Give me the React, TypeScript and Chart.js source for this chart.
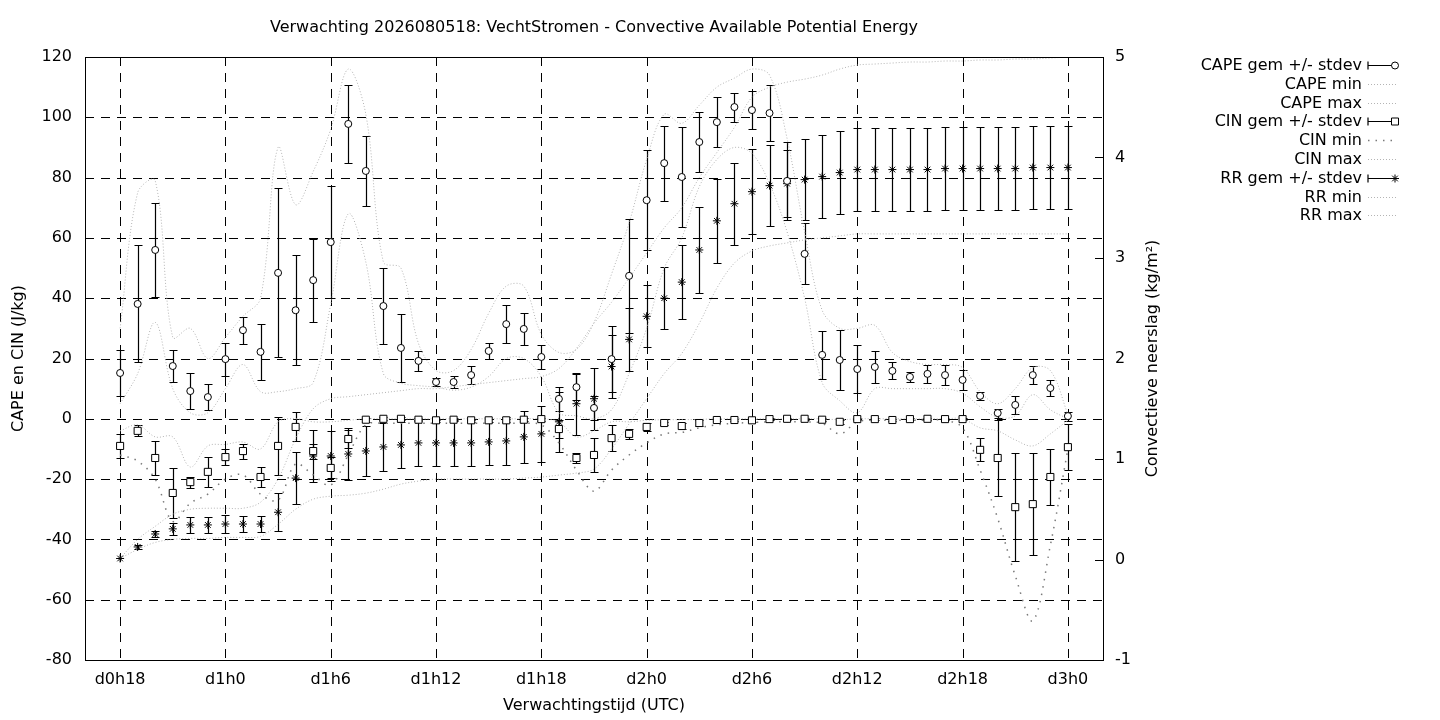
import React, { useRef, useEffect } from 'react';
import { Chart, registerables } from 'chart.js';

Chart.register(...registerables);

// forecast hours since d0h0
const hours = [
    18, 19, 20, 21, 22, 23, 24, 25, 26, 27,
    28, 29, 30, 31, 32, 33, 34, 35, 36, 37,
    38, 39, 40, 41, 42, 43, 44, 45, 46, 47,
    48, 49, 50, 51, 52, 53, 54, 55, 56, 57,
    58, 59, 60, 61, 62, 63, 64, 65, 66, 67,
    68, 69, 70, 71, 72,
];

const xTickHours = [18, 24, 30, 36, 42, 48, 54, 60, 66, 72];
const xTickLabels = ['d0h18', 'd1h0', 'd1h6', 'd1h12', 'd1h18', 'd2h0', 'd2h6', 'd2h12', 'd2h18', 'd3h0'];
const leftTicks = [-80, -60, -40, -20, 0, 20, 40, 60, 80, 100, 120];
const rightTicks = [-1, 0, 1, 2, 3, 4, 5];

// CAPE (J/kg)
const capeMean = [
    15.2, 38.1, 56.0, 17.5, 9.2, 7.2, 19.8, 29.4, 22.2, 48.4,
    36.0, 46.0, 58.6, 97.8, 82.2, 37.4, 23.5, 19.2, 12.2, 12.2,
    14.5, 22.5, 31.4, 29.8, 20.5, 6.6, 10.5, 3.6, 19.8, 47.4,
    72.5, 84.8, 80.2, 91.8, 98.4, 103.4, 102.4, 101.4, 78.9, 54.7,
    21.2, 19.5, 16.5, 17.2, 15.9, 13.9, 14.9, 14.5, 12.9, 7.6,
    1.9, 4.6, 14.5, 10.2, 0.9,
];
const capeStd = [
    7.5, 19.4, 15.6, 5.3, 6.1, 4.3, 5.5, 4.5, 9.3, 28.0,
    18.2, 13.8, 18.6, 12.9, 11.5, 12.7, 11.3, 3.3, 1.4, 1.9,
    3.0, 2.8, 6.2, 5.2, 4.0, 4.1, 4.4, 4.0, 10.9, 18.8,
    16.5, 12.4, 16.6, 9.8, 8.4, 4.8, 6.2, 9.2, 13.0, 10.1,
    8.0, 9.8, 8.0, 5.2, 2.8, 1.7, 3.0, 3.3, 3.2, 1.4,
    1.5, 3.0, 2.9, 2.7, 1.5,
];
const capeMin = [
    5, 15, 32, 10, 2, 2, 10, 18, 9, 9,
    10, 12, 38, 68, 52, 15, 11.8, 11, 10.5, 9.5,
    10.5, 14, 20, 20, 14, 2, 1, 0, 3, 15,
    30, 50, 60, 77, 86, 90, 88, 78, 62, 40,
    12, 6, 2, 10, 10, 10, 10, 10, 8.5, 4,
    0.5, 1, 8, 3, 0,
];
const capeMax = [
    30, 75, 79, 27, 30, 20, 27, 34, 40, 90,
    71, 82, 96, 116, 101, 52, 50, 25, 16, 16,
    23, 35, 44, 44, 28, 22, 23, 32, 48, 65,
    86, 101, 98, 104, 110, 113, 116, 114, 93, 62,
    36, 30, 30, 31, 22, 19, 18, 18, 17, 9,
    5, 10, 17, 16, 1.5,
];

// CIN (J/kg)
const cinMean = [
    -9.0, -4.0, -13.0, -24.6, -21.0, -17.6, -12.7, -10.7, -19.3, -9.0,
    -2.7, -10.7, -16.3, -6.7, -0.3, 0, 0, -0.3, -0.5, -0.3,
    -0.5, -0.5, -0.5, -0.3, -0.1, -3.4, -13.0, -12.0, -6.4, -5.0,
    -2.7, -1.4, -2.4, -1.4, -0.4, -0.4, -0.5, -0.1, 0, 0,
    -0.3, -1.0, -0.1, -0.1, -0.4, -0.1, 0, -0.1, -0.1, -10.3,
    -13.0, -29.3, -28.3, -19.3, -9.4,
];
const cinStd = [
    4.0, 1.8, 5.6, 8.3, 1.8, 5.0, 2.7, 2.5, 3.2, 9.6,
    4.8, 2.5, 3.5, 3.0, 0.6, 0.5, 0.5, 0.5, 0.5, 0.5,
    0.5, 0.5, 0.5, 0.5, 0.5, 3.0, 1.7, 5.6, 4.2, 1.7,
    1.3, 0.5, 1.0, 1.0, 0.4, 0.4, 0.4, 0.3, 0.3, 0.3,
    0.4, 0.7, 0.3, 0.3, 0.3, 0.3, 0.3, 0.3, 0.3, 3.8,
    12.6, 17.8, 16.9, 9.2, 7.7,
];
const cinMin = [
    -12, -14, -20, -34, -28, -25, -20, -18.6, -25, -27,
    -15, -18.6, -22, -12, -2, -1.5, -1.5, -1.5, -1.5, -1.5,
    -1.5, -1.5, -1.5, -1.5, -2, -8, -17, -24, -17, -12,
    -8, -5, -4.5, -3, -2, -1.5, -1.2, -1, -1, -1,
    -1.5, -5, -1, -0.5, -0.5, -0.5, -0.5, -0.5, -3, -17,
    -33, -52, -67, -42, -10,
];
const cinMax = [
    -4, -2, -6, -6, -16, -9, -8.5, -7.7, -10, -1,
    0, -1, -1, -0.5, 0, 0, 0, 0, 0, 0,
    0, 0, 0, 0, 0, -1, -6, -4, -1, -1,
    -0.5, -0.3, -0.3, -0.2, 0, 0, 0, 0, 0, 0,
    0, -0.3, 0, 0, 0, 0, 0, 0, 0, -3,
    -4, -7, -9, -5, -0.5,
];

// convective precipitation (kg/m2), right axis
const rrMean = [
    0.01, 0.125, 0.254, 0.305, 0.344, 0.344, 0.353, 0.353, 0.353, 0.47,
    0.81, 1.03, 1.03, 1.05, 1.08, 1.12, 1.14, 1.16, 1.16, 1.16,
    1.16, 1.17, 1.18, 1.22, 1.25, 1.37, 1.55, 1.60, 1.92, 2.19,
    2.42, 2.60, 2.76, 3.08, 3.37, 3.54, 3.66, 3.72, 3.74, 3.78,
    3.81, 3.85, 3.88, 3.88, 3.88, 3.88, 3.88, 3.89, 3.89, 3.89,
    3.89, 3.89, 3.90, 3.90, 3.90,
];
const rrStd = [
    0, 0.02, 0.03, 0.06, 0.08, 0.08, 0.09, 0.08, 0.08, 0.19,
    0.26, 0.26, 0.25, 0.26, 0.25, 0.24, 0.23, 0.23, 0.23, 0.23,
    0.23, 0.23, 0.24, 0.26, 0.28, 0.30, 0.31, 0.31, 0.31, 0.31,
    0.31, 0.31, 0.37, 0.43, 0.42, 0.41, 0.42, 0.40, 0.33, 0.40,
    0.41, 0.41, 0.41, 0.41, 0.41, 0.41, 0.41, 0.41, 0.41, 0.41,
    0.41, 0.41, 0.41, 0.41, 0.41,
];
const rrMin = [
    0.01, 0.1, 0.17, 0.2, 0.21, 0.21, 0.22, 0.22, 0.23, 0.35,
    0.5, 0.6, 0.63, 0.64, 0.66, 0.7, 0.75, 0.78, 0.8, 0.8,
    0.8, 0.8, 0.8, 0.81, 0.82, 0.84, 0.86, 0.9, 1.1, 1.35,
    1.6, 1.85, 2.05, 2.35, 2.7, 2.95, 3.07, 3.12, 3.15, 3.18,
    3.2, 3.22, 3.24, 3.24, 3.24, 3.24, 3.24, 3.24, 3.24, 3.24,
    3.24, 3.24, 3.24, 3.24, 3.24,
];
const rrMax = [
    0.01, 0.2, 0.33, 0.45, 0.5, 0.51, 0.51, 0.51, 0.57, 0.8,
    1.2, 1.5, 1.6, 1.62, 1.64, 1.66, 1.68, 1.7, 1.7, 1.72,
    1.74, 1.76, 1.78, 1.8, 1.82, 1.9, 2.1, 2.35, 2.56, 2.8,
    3.05, 3.3, 3.5, 3.8, 4.05, 4.3, 4.6, 4.7, 4.75, 4.78,
    4.82, 4.88, 4.92, 4.93, 4.94, 4.95, 4.95, 4.96, 4.96, 4.97,
    4.97, 4.98, 4.98, 4.99, 5.0,
];

const FONT = 'DejaVu Sans';
const FONT_SIZE = 16;
const DOT_GREY = '#b4b4b4';

const pts = (values: number[]) => hours.map((h, i) => ({ x: h, y: values[i] }));

// marker drawing, shared by the legend
function drawMarker(ctx: CanvasRenderingContext2D, style: string, x: number, y: number) {
    ctx.save();
    ctx.setLineDash([]);
    ctx.strokeStyle = '#000';
    ctx.lineWidth = 1;
    ctx.beginPath();
    if (style === 'circle') {
        ctx.fillStyle = '#fff';
        ctx.arc(x, y, 3.5, 0, Math.PI * 2);
        ctx.fill();
        ctx.stroke();
    } else if (style === 'rect') {
        ctx.fillStyle = '#fff';
        ctx.rect(x - 3.5, y - 3.5, 7, 7);
        ctx.fill();
        ctx.stroke();
    } else {
        const r = 4;
        const d = r * Math.SQRT1_2;
        ctx.moveTo(x - r, y); ctx.lineTo(x + r, y);
        ctx.moveTo(x, y - r); ctx.lineTo(x, y + r);
        ctx.moveTo(x - d, y - d); ctx.lineTo(x + d, y + d);
        ctx.moveTo(x - d, y + d); ctx.lineTo(x + d, y - d);
        ctx.stroke();
    }
    ctx.restore();
}

const gnuplotLook = {
    id: 'gnuplotLook',
    beforeDatasetsDraw(chart: any) {
        const { ctx, chartArea: a, scales } = chart;
        ctx.save();
        // dashed grid
        ctx.strokeStyle = '#000';
        ctx.lineWidth = 1;
        ctx.setLineDash([9, 7]);
        ctx.beginPath();
        xTickHours.forEach((h) => {
            const x = Math.round(scales.x.getPixelForValue(h)) + 0.5;
            ctx.moveTo(x, a.top);
            ctx.lineTo(x, a.bottom);
        });
        leftTicks.forEach((v) => {
            if (v <= -80 || v >= 120) return;
            const y = Math.round(scales.y.getPixelForValue(v)) + 0.5;
            ctx.moveTo(a.left, y);
            ctx.lineTo(a.right, y);
        });
        ctx.stroke();

        // error bars
        ctx.setLineDash([]);
        ctx.lineWidth = 1.2;
        const bars = (scaleY: any, mean: number[], std: number[]) => {
            ctx.beginPath();
            hours.forEach((h, i) => {
                if (!std[i]) return;
                const x = Math.round(scales.x.getPixelForValue(h)) + 0.5;
                const y1 = Math.round(scaleY.getPixelForValue(mean[i] + std[i])) + 0.5;
                const y2 = Math.round(scaleY.getPixelForValue(mean[i] - std[i])) + 0.5;
                ctx.moveTo(x, y1); ctx.lineTo(x, y2);
                ctx.moveTo(x - 4, y1); ctx.lineTo(x + 4, y1);
                ctx.moveTo(x - 4, y2); ctx.lineTo(x + 4, y2);
            });
            ctx.stroke();
        };
        bars(scales.y, capeMean, capeStd);
        bars(scales.y, cinMean, cinStd);
        bars(scales.y2, rrMean, rrStd);
        ctx.restore();
    },
    afterDatasetsDraw(chart: any) {
        const { ctx, chartArea: a, scales } = chart;
        ctx.save();
        ctx.strokeStyle = '#000';
        ctx.lineWidth = 1;
        ctx.setLineDash([]);
        ctx.strokeRect(Math.round(a.left) + 0.5, Math.round(a.top) + 0.5,
            Math.round(a.right - a.left), Math.round(a.bottom - a.top));
        // y2 tick marks on the right border
        ctx.beginPath();
        rightTicks.forEach((v) => {
            const y = Math.round(scales.y2.getPixelForValue(v)) + 0.5;
            ctx.moveTo(a.right - 8, y);
            ctx.lineTo(a.right, y);
        });
        ctx.stroke();
        ctx.restore();
    },
    afterDraw(chart: any) {
        const { ctx, chartArea: a } = chart;
        ctx.save();
        ctx.fillStyle = '#000';
        ctx.font = `${FONT_SIZE}px "${FONT}"`;
        ctx.textBaseline = 'middle';
        ctx.textAlign = 'center';
        const cx = (a.left + a.right) / 2;
        ctx.fillText('Verwachting 2026080518: VechtStromen - Convective Available Potential Energy', cx, 28);
        ctx.fillText('Verwachtingstijd (UTC)', cx, 706);

        ctx.save();
        ctx.translate(19, (a.top + a.bottom) / 2);
        ctx.rotate(-Math.PI / 2);
        ctx.fillText('CAPE en CIN (J/kg)', 0, 0);
        ctx.restore();
        ctx.save();
        ctx.translate(1153, (a.top + a.bottom) / 2);
        ctx.rotate(-Math.PI / 2);
        ctx.fillText('Convectieve neerslag (kg/m\u00b2)', 0, 0);
        ctx.restore();

        // key
        const x0 = 1368;
        const x1 = 1398;
        chart.data.datasets.forEach((ds: any, i: number) => {
            const y = Math.round(65 + i * 18.8) + 0.5;
            ctx.textAlign = 'right';
            ctx.fillStyle = '#000';
            ctx.fillText(ds.label, 1362, y);
            if (ds.showLine === false) {
                ctx.strokeStyle = '#000';
                ctx.lineWidth = 1.2;
                ctx.setLineDash([]);
                ctx.beginPath();
                ctx.moveTo(x0, y); ctx.lineTo(x1 - 3, y);
                ctx.moveTo(x0, y - 4); ctx.lineTo(x0, y + 4);
                ctx.stroke();
                drawMarker(ctx, ds.pointStyle, x1 - 3, y);
            } else {
                ctx.strokeStyle = ds.borderColor;
                ctx.lineWidth = ds.borderWidth;
                ctx.setLineDash(ds.borderDash);
                ctx.beginPath();
                ctx.moveTo(x0, y); ctx.lineTo(x1, y);
                ctx.stroke();
            }
        });
        ctx.restore();
    },
};

const meanSet = (label: string, values: number[], style: string, axis: string, radius: number) => ({
    label,
    data: pts(values),
    yAxisID: axis,
    showLine: false,
    pointStyle: style,
    pointRadius: radius,
    pointBackgroundColor: '#fff',
    pointBorderColor: '#000',
    pointBorderWidth: 1,
    borderColor: '#000',
    order: 0,
});

const rangeSet = (label: string, values: number[], axis: string, dash: number[], color: string, width: number) => ({
    label,
    data: pts(values),
    yAxisID: axis,
    showLine: true,
    fill: false,
    borderColor: color,
    borderWidth: width,
    borderDash: dash,
    pointRadius: 0,
    tension: 0.35,
    order: 1,
});

const App: React.FC = () => {
    const chartRef = useRef<HTMLCanvasElement>(null);
    const chartInstance = useRef<Chart | null>(null);

    useEffect(() => {
        if (!chartRef.current) return;
        if (chartInstance.current) {
            chartInstance.current.destroy();
        }
        const tickFont = { family: FONT, size: FONT_SIZE };

        chartInstance.current = new Chart(chartRef.current, {
            type: 'line',
            data: {
                datasets: [
                    meanSet('CAPE gem +/- stdev', capeMean, 'circle', 'y', 3.5),
                    rangeSet('CAPE min', capeMin, 'y', [1, 2], DOT_GREY, 1),
                    rangeSet('CAPE max', capeMax, 'y', [1, 2], DOT_GREY, 1),
                    meanSet('CIN gem +/- stdev', cinMean, 'rect', 'y', 5),
                    rangeSet('CIN min', cinMin, 'y', [1.5, 6], '#7a7a7a', 1.5),
                    rangeSet('CIN max', cinMax, 'y', [1, 2], DOT_GREY, 1),
                    meanSet('RR gem +/- stdev', rrMean, 'star', 'y2', 4),
                    rangeSet('RR min', rrMin, 'y2', [1, 2], DOT_GREY, 1),
                    rangeSet('RR max', rrMax, 'y2', [1, 2], DOT_GREY, 1),
                ] as any,
            },
            options: {
                animation: false,
                responsive: true,
                maintainAspectRatio: false,
                devicePixelRatio: 1,
                layout: { padding: { top: 57, left: 0, right: 0, bottom: 0 } },
                plugins: {
                    legend: { display: false },
                    tooltip: { enabled: false },
                    title: { display: false },
                },
                scales: {
                    x: {
                        type: 'linear',
                        min: 16,
                        max: 74,
                        afterBuildTicks: (s: any) => {
                            s.ticks = xTickHours.map((v) => ({ value: v }));
                        },
                        afterFit: (s: any) => {
                            s.height = 60;
                        },
                        ticks: {
                            autoSkip: false,
                            maxRotation: 0,
                            padding: 10,
                            color: '#000',
                            font: tickFont,
                            callback: (v: any) => xTickLabels[xTickHours.indexOf(Number(v))] ?? '',
                        },
                        grid: { display: false, drawTicks: false },
                        border: { display: false },
                    },
                    y: {
                        type: 'linear',
                        position: 'left',
                        min: -80,
                        max: 120,
                        afterBuildTicks: (s: any) => {
                            s.ticks = leftTicks.map((v) => ({ value: v }));
                        },
                        afterFit: (s: any) => {
                            s.width = 85;
                        },
                        ticks: { padding: 13, color: '#000', font: tickFont },
                        grid: { display: false, drawTicks: false },
                        border: { display: false },
                    },
                    y2: {
                        type: 'linear',
                        position: 'right',
                        min: -1,
                        max: 5,
                        afterBuildTicks: (s: any) => {
                            s.ticks = rightTicks.map((v) => ({ value: v }));
                        },
                        afterFit: (s: any) => {
                            s.width = 337;
                        },
                        ticks: { padding: 12, color: '#000', font: tickFont },
                        grid: { display: false, drawTicks: false },
                        border: { display: false },
                    },
                },
            },
            plugins: [gnuplotLook],
        });

        return () => {
            if (chartInstance.current) {
                chartInstance.current.destroy();
                chartInstance.current = null;
            }
        };
    }, []);

    return (
        <div style={{ position: 'absolute', left: 0, top: 0, width: 1440, height: 720, background: '#fff' }}>
            <canvas ref={chartRef} />
        </div>
    );
};

export default App;
